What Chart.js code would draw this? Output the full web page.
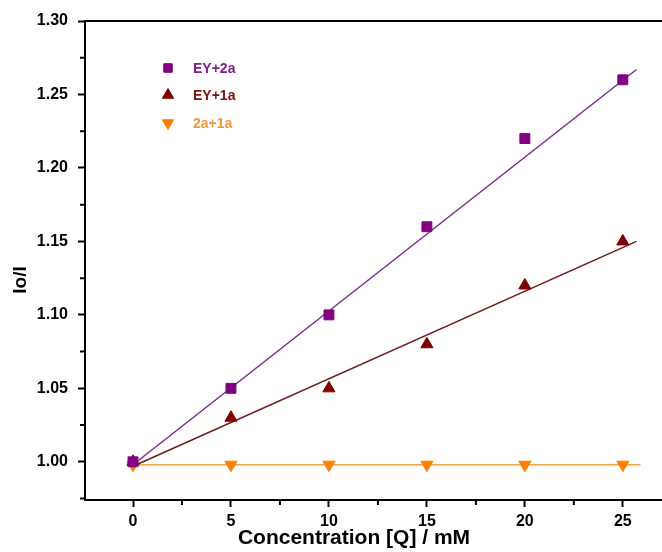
<!DOCTYPE html>
<html>
<head>
<meta charset="utf-8">
<script src="https://cdn.jsdelivr.net/npm/chart.js@4.4.1/dist/chart.umd.min.js"></script>
<style>
  html, body { margin: 0; padding: 0; background: #fff; }
  canvas { display: block; }
</style>
</head>
<body>
<canvas id="SternVolmer" width="662" height="552"></canvas>
<script>
// values
var concentration = [0, 5, 10, 15, 20, 25];
var ey2a = [1.00, 1.05, 1.10, 1.16, 1.22, 1.26];
var ey1a = [1.00, 1.03, 1.05, 1.08, 1.12, 1.15];
var a2a1 = [0.998, 0.998, 0.998, 0.998, 0.998, 0.998];

// fitted lines, end points
var fitX = [0, 25.7];
var fitEy2a = [0.998, 1.267];
var fitEy1a = [0.997, 1.150];
var fitXa2a1 = [0, 25.9];
var fitA2a1 = [0.998, 0.998];

var seriesNames = ['EY+2a', 'EY+1a', '2a+1a'];
var xTitle = 'Concentration [Q] / mM';
var yTitle = 'Io/I';

var FONT = '"Liberation Sans", Arial, sans-serif';

function pts(xs, ys) {
	return xs.map(function (x, i) { return { x: x, y: ys[i] }; });
}

function isMajor(v, step) {
	var q = v / step;
	return Math.abs(q - Math.round(q)) < 1e-6;
}

var markerStyles = [
	{ pointStyle: 'rect', color: '#800080', text: '#7d1f8c', rotation: 0 },
	{ pointStyle: 'triangle', color: '#800000', text: '#7a1212', rotation: 0 },
	{ pointStyle: 'triangle', color: '#ff8000', text: '#eb9a3a', rotation: 180 }
];

// minor ticks shorter than the major ones, plus the top frame line
var framePlugin = {
	id: 'frame',
	afterDraw: function (chart) {
		var ctx = chart.ctx;
		var a = chart.chartArea;
		ctx.save();
		ctx.strokeStyle = '#000';
		ctx.lineWidth = 2;
		ctx.beginPath();
		ctx.moveTo(a.left - 1, a.top);
		ctx.lineTo(a.right, a.top);
		ctx.stroke();

		var xs = chart.scales.x, ys = chart.scales.y;
		ctx.beginPath();
		xs.ticks.forEach(function (t) {
			if (isMajor(t.value, 5)) return;
			var px = xs.getPixelForValue(t.value);
			ctx.moveTo(px, a.bottom);
			ctx.lineTo(px, a.bottom + 5);
		});
		ys.ticks.forEach(function (t) {
			if (isMajor(t.value, 0.05)) return;
			var py = ys.getPixelForValue(t.value);
			ctx.moveTo(a.left, py);
			ctx.lineTo(a.left - 5, py);
		});
		ctx.stroke();

		// axis titles
		ctx.fillStyle = '#000';
		ctx.font = 'bold 21px ' + FONT;
		ctx.textAlign = 'center';
		ctx.textBaseline = 'middle';
		ctx.fillText(xTitle, a.left + 269, a.bottom + 38);
		ctx.translate(21, 280);
		ctx.rotate(-Math.PI / 2);
		ctx.font = 'bold 19px ' + FONT;
		ctx.fillText(yTitle, 0, 0);
		ctx.restore();
	}
};

var legendPlugin = {
	id: 'insideLegend',
	afterDraw: function (chart) {
		var ctx = chart.ctx;
		var rows = [68, 95, 123];
		ctx.save();
		ctx.font = 'bold 14px ' + FONT;
		ctx.textAlign = 'left';
		ctx.textBaseline = 'middle';
		seriesNames.forEach(function (name, i) {
			var m = markerStyles[i];
			ctx.fillStyle = m.color;
			ctx.strokeStyle = m.color;
			ctx.lineWidth = 1;
			Chart.helpers.drawPoint(ctx, {
				pointStyle: m.pointStyle,
				radius: i === 0 ? 6 : 6.5,
				rotation: m.rotation,
				borderWidth: 1
			}, 168, rows[i]);
			ctx.fillStyle = m.text;
			ctx.fillText(name, 193, rows[i] + 1);
		});
		ctx.restore();
	}
};

function markerSet(label, ys, i) {
	var m = markerStyles[i];
	return {
		label: label,
		data: pts(concentration, ys),
		showLine: false,
		pointStyle: m.pointStyle,
		rotation: m.rotation,
		pointRadius: 7,
		pointBackgroundColor: m.color,
		pointBorderColor: m.color,
		pointBorderWidth: 1,
		order: 0
	};
}

function fitSet(xs, ys, color) {
	return {
		data: pts(xs, ys),
		showLine: true,
		borderColor: color,
		borderWidth: 1.5,
		pointRadius: 0,
		fill: false,
		order: 1
	};
}

document.addEventListener('DOMContentLoaded', function () {
	var ctx = document.getElementById('SternVolmer').getContext('2d');
	new Chart(ctx, {
		type: 'scatter',
		data: {
			datasets: [
				fitSet(fitX, fitEy2a, '#7a2d88'),
				fitSet(fitX, fitEy1a, '#6e1c1c'),
				fitSet(fitXa2a1, fitA2a1, '#f0a648'),
				markerSet(seriesNames[0], ey2a, 0),
				markerSet(seriesNames[1], ey1a, 1),
				markerSet(seriesNames[2], a2a1, 2)
			]
		},
		options: {
			responsive: false,
			animation: false,
			layout: { autoPadding: false, padding: { top: 21, right: 0, left: 0, bottom: 0 } },
			plugins: {
				legend: { display: false },
				tooltip: { enabled: false }
			},
			scales: {
				x: {
					type: 'linear',
					min: -2.45,
					max: 27,
					afterFit: function (s) { s.height = 52; s.paddingLeft = 0; s.paddingRight = 0; },
					border: { display: true, color: '#000', width: 2 },
					grid: {
						drawOnChartArea: false,
						drawTicks: true,
						tickLength: 7,
						tickWidth: 2,
						tickColor: function (c) { return isMajor(c.tick.value, 5) ? '#000' : 'rgba(0,0,0,0)'; }
					},
					ticks: {
						stepSize: 2.5,
						includeBounds: false,
						autoSkip: false,
						maxRotation: 0,
						padding: 5,
						color: '#000',
						font: { family: FONT, size: 16, weight: 'bold' },
						callback: function (v) { return isMajor(v, 5) ? String(Math.round(v)) : ''; }
					}
				},
				y: {
					type: 'linear',
					min: 0.974,
					max: 1.30,
					afterFit: function (s) { s.width = 85; s.paddingTop = 0; s.paddingBottom = 0; },
					border: { display: true, color: '#000', width: 2 },
					grid: {
						drawOnChartArea: false,
						drawTicks: true,
						tickLength: 7,
						tickWidth: 2,
						tickColor: function (c) { return isMajor(c.tick.value, 0.05) ? '#000' : 'rgba(0,0,0,0)'; }
					},
					ticks: {
						stepSize: 0.025,
						includeBounds: false,
						autoSkip: false,
						padding: 10,
						color: '#000',
						font: { family: FONT, size: 16, weight: 'bold' },
						callback: function (v) { return isMajor(v, 0.05) ? v.toFixed(2) : ''; }
					}
				}
			}
		},
		plugins: [framePlugin, legendPlugin]
	});
});
</script>
</body>
</html>
